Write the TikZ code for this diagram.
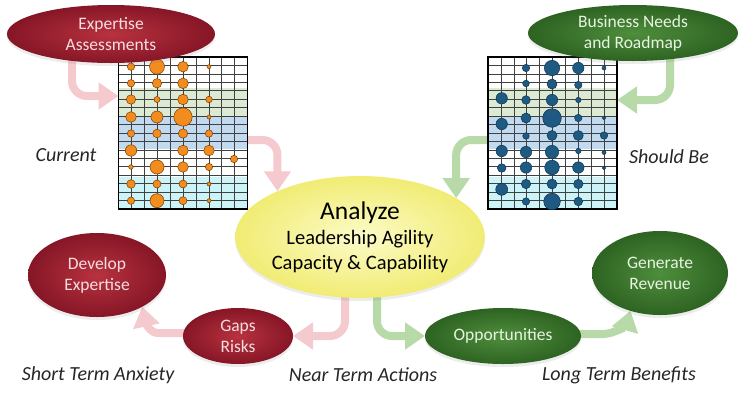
\documentclass[tikz,border=0pt]{standalone}
\usepackage{fontspec}
\setmainfont{Carlito}
\usetikzlibrary{shapes.geometric,arrows.meta,shadows,calc}
\pgfdeclarelayer{bg}
\pgfsetlayers{bg,main}
\definecolor{redin}{HTML}{B8323F}
\definecolor{redout}{HTML}{861626}
\definecolor{greenin}{HTML}{4E8E3C}
\definecolor{greenout}{HTML}{2E6322}
\definecolor{yellin}{HTML}{FCFBC8}
\definecolor{yellout}{HTML}{F1EC74}
\definecolor{redtxt}{HTML}{F6DDE0}
\definecolor{greentxt}{HTML}{E8F3E2}
\definecolor{pinkarrc}{HTML}{F4CACE}
\definecolor{greenarrc}{HTML}{B7DAA8}
\definecolor{bandgreen}{HTML}{DCEAD4}
\definecolor{bandblue}{HTML}{C2DAEF}
\definecolor{bandcyan}{HTML}{CBF3F8}
\definecolor{orangedot}{HTML}{F28C1E}
\definecolor{orangeedge}{HTML}{7A3D00}
\definecolor{bluedot}{HTML}{1E5A82}
\definecolor{blueedge}{HTML}{0E3450}
\newcommand\fsz[2]{\fontsize{#1}{#2}\selectfont}
\begin{document}
\begin{tikzpicture}[x=1pt,y=-1pt,
  ell/.style={ellipse, inner sep=0pt, outer sep=0pt, align=center,
    drop shadow={shadow xshift=0pt, shadow yshift=-3pt, opacity=0.15}},
  redell/.style={ell, inner color=redin, outer color=redout, text=redtxt, font=\fsz{17.5}{21}},
  greenell/.style={ell, inner color=greenin, outer color=greenout, text=greentxt, font=\fsz{17.5}{21}},
  yellell/.style={ell, inner color=yellin, outer color=yellout, text=black, font=\fsz{20.5}{25}},
  pinkarr/.style={draw=pinkarrc, line width=8pt, rounded corners=15pt, -{Triangle[width=26pt,length=20pt]}},
  greenarr/.style={draw=greenarrc, line width=8pt, rounded corners=15pt, -{Triangle[width=26pt,length=20pt]}},
  gridline/.style={draw=black!75, line width=0.6pt},
  gridbox/.style={rectangle, draw=black, line width=1.2pt, minimum width=129pt, minimum height=152pt, inner sep=0pt, outer sep=0pt},
  odot/.style={fill=orangedot, draw=orangeedge, line width=0.5pt},
  bdot/.style={fill=bluedot, draw=blueedge, line width=0.5pt},
  lab/.style={font=\fsz{20}{24}\itshape, text=black!85}
]
\useasboundingbox (0,0) rectangle (744,400);

% ---------- grids ----------
\foreach \gx in {118.5, 488} {
  \begin{scope}[shift={(\gx,57)}]
    \fill[white] (0,0) rectangle (129,152);
    \fill[bandgreen] (0,31) rectangle (129,59);
    \fill[bandblue] (0,59) rectangle (129,92);
    \fill[bandcyan] (0,120) rectangle (129,152);
    \foreach \i in {1,...,9} \draw[gridline] (\i*12.9,0) -- (\i*12.9,152);
    \foreach \j in {1,...,17} \draw[gridline] (0,\j*8.444) -- (129,\j*8.444);
  \end{scope}
}
\node[gridbox] (gridL) at (183,133) {};
\node[gridbox] (gridR) at (552.5,133) {};

\foreach \x/\y/\r in {
  131/66.7/3.7, 157/66.7/7.5, 183/66.7/5.3, 209/66.7/2,
  131/83.3/3.7, 157/83.3/4.7, 183/83.3/5.3,
  131/99.5/4.7, 157/99.5/3, 183/99.5/5.3, 209/99.5/3.3,
  131/117/5.3, 157/117/6, 183/117/9.2, 209/117/2,
  131/133.5/3.7, 157/133.5/4.3, 183/133.5/4.7, 209/133.5/3.7,
  131/150.5/5.7, 183/150.5/5.3, 209/150.5/5.3,
  234/159/3.7,
  131/167/2.3, 157/167/7, 183/167/5.3, 209/167/3.7,
  131/184/4.3, 157/184/4, 183/184/4, 209/184/2,
  131/200.7/3.7, 157/200.7/7, 183/200.7/4, 209/200.7/2}
  \filldraw[odot] (\x,\y) circle (\r pt);

\foreach \x/\y/\r in {
  501.7/98.3/5.7, 501.7/124/5.7, 501.7/151/5.7, 501.7/168/4.3, 501.7/189.3/6,
  526/68/3.7, 526/83.5/3.3, 526/100/4.3, 526/118/5, 526/136/3.3, 526/152/5.7, 526/167.5/5.7, 526/184/4.7, 526/201.5/3.7,
  552/68/7.7, 552/84/5, 552/100/5.7, 552/118/9.3, 552/135.5/5, 552/152/6.7, 552/167.5/7.3, 552/184/5, 552/201.5/8.3,
  578.3/68/5.7, 578.3/85/3.7, 578.3/100/2.7, 578.3/118/3.7, 578.3/135.5/5, 578.3/151/2.7, 578.3/167.5/5.7, 578.3/184/4.7, 578.3/201.5/4.3,
  604/68/2, 604/118/1.7, 604/135.5/3.7, 604/152.5/2, 604/168/1.7}
  \filldraw[bdot] (\x,\y) circle (\r pt);

% ---------- ellipses ----------
\node[redell, minimum width=208pt, minimum height=58pt] (EA) at (111,34) {Expertise\\Assessments};
\node[greenell, minimum width=210pt, minimum height=56pt] (BN) at (633,33) {Business Needs\\and Roadmap};
\node[yellell, minimum width=244pt, minimum height=122pt] (AN) at (360,237)
  {{\fsz{25.5}{28}Analyze}\\Leadership Agility\\Capacity \& Capability};
\node[redell, minimum width=138pt, minimum height=84pt] (DE) at (97,275) {Develop\\Expertise};
\node[greenell, minimum width=136pt, minimum height=84pt] (GR) at (660,273) {Generate\\Revenue};
\node[redell, minimum width=110pt, minimum height=56pt] (GA) at (238,336) {Gaps\\Risks};
\node[greenell, minimum width=156pt, minimum height=56pt] (OP) at (503,336) {Opportunities};

% ---------- labels ----------
\node[lab] (cur) at (66,155) {Current};
\node[lab] (shb) at (669,157) {Should Be};
\node[lab] (sta) at (98,375) {Short Term Anxiety};
\node[lab] (nta) at (363,375) {Near Term Actions};
\node[lab] (ltb) at (619,375) {Long Term Benefits};

% ---------- connectors ----------
\coordinate (gL1) at (118.5,96);
\coordinate (gR1) at (617,100);
\coordinate (c7) at (158,333);
\coordinate (c8) at (603,334);
\begin{pgfonlayer}{bg}
\draw[pinkarr] ([xshift=-39pt]EA.center) |- (gL1);
\draw[pinkarr] ([yshift=-7pt]gridL.center) -| (AN.151);
\draw[greenarr] ([xshift=37pt]BN.center) |- (gR1);
\draw[greenarr] ([yshift=-7pt]gridR.center) -| (AN.22);
\draw[pinkarr] ([xshift=-15pt]AN.center) |- (GA.east);
\draw[greenarr] ([xshift=17pt]AN.center) |- (OP.west);
\draw[pinkarr, rounded corners=0pt] ([yshift=3pt]GA.center) -- (c7) .. controls +(-9,0) and +(3,14) .. (DE.325);
\draw[greenarr, rounded corners=0pt] ([yshift=2pt]OP.center) -- (c8) .. controls +(11,0) and +(-4,14) .. (GR.232);
\end{pgfonlayer}
\end{tikzpicture}
\end{document}
